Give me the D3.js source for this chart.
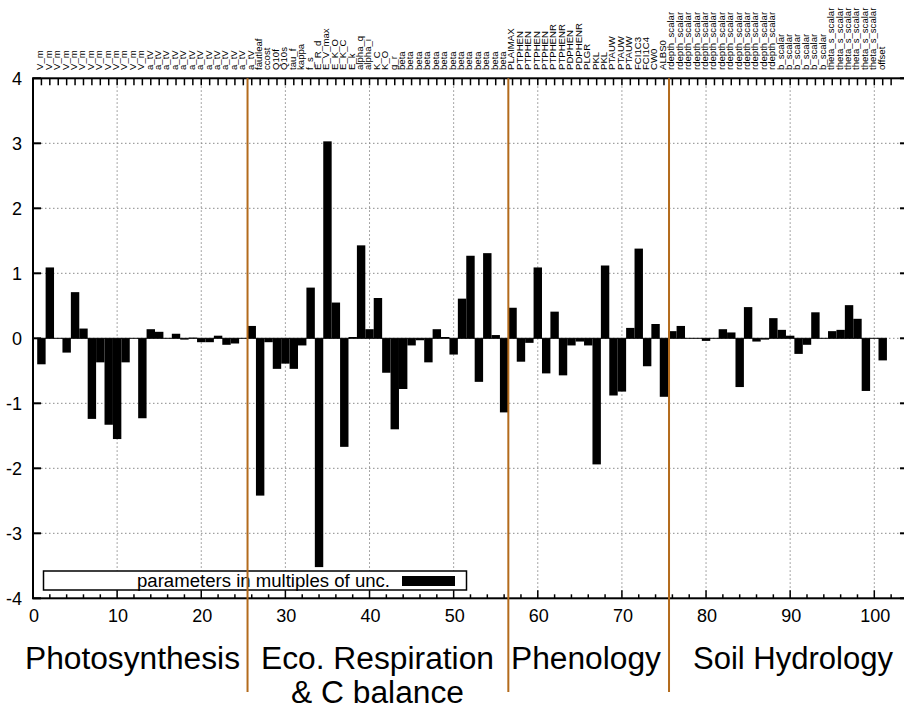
<!DOCTYPE html>
<html>
<head>
<meta charset="utf-8">
<script src="https://cdn.jsdelivr.net/npm/d3@7"></script>
<style>
  html, body { margin: 0; padding: 0; background: #fff; }
  svg { display: block; font-family: "Liberation Sans", Arial, Helvetica, sans-serif; }
</style>
</head>
<body>
<svg id="chart" width="904" height="711"></svg>
<script>
// Parameter names along the top axis, one per bar (index 1..101)
const paramNames = [].concat(
  Array(13).fill("V_m"),
  Array(13).fill("a_tV"),
  ["fautleaf", "ccost", "Q10f", "Q10s", "tau_f", "kappa", "f_s", "E_R_d", "E_V_max",
   "E_K_O", "E_K_C", "E_k", "alpha_q", "alpha_i", "K_C", "K_O", "g_r"],
  Array(13).fill("beta"),
  ["PLAIMAX", "PTPHEN", "PTPHEN", "PTPHEN", "PTPHEN", "PTPHENR", "PTPHENR", "PDPHEN",
   "PDPHENR", "PLGR", "PKL", "PKL", "PTAUW", "PTAUW", "PTAUW", "FCI1C3", "FCI1C4", "CW0", "ALBS0"],
  Array(13).fill("rdepth_scalar"),
  Array(6).fill("b_scalar"),
  Array(6).fill("theta_s_scalar"),
  ["offset"]
);

// Parameter change in multiples of its uncertainty, bars 1..101
const paramValues = [
  -0.40, 1.09, 0.00, -0.22, 0.71, 0.15, -1.24, -0.37, -1.33, -1.55,
  -0.37, 0.00, -1.23, 0.14, 0.10, 0.00, 0.07, -0.02, 0.01, -0.06,
  -0.06, 0.04, -0.10, -0.08, 0.00, 0.19, -2.42, -0.06, -0.47, -0.39,
  -0.47, -0.11, 0.78, -3.52, 3.03, 0.55, -1.67, 0.02, 1.43, 0.14,
  0.62, -0.53, -1.40, -0.78, -0.11, -0.03, -0.37, 0.14, 0.02, -0.25,
  0.61, 1.27, -0.67, 1.31, 0.05, -1.14, 0.47, -0.36, -0.07, 1.09,
  -0.54, 0.41, -0.57, -0.11, -0.05, -0.11, -1.94, 1.12, -0.88, -0.82,
  0.16, 1.38, -0.43, 0.22, -0.90, 0.11, 0.19, 0.00, 0.00, -0.04,
  0.00, 0.14, 0.09, -0.75, 0.48, -0.05, -0.02, 0.31, 0.13, 0.04,
  -0.24, -0.10, 0.40, 0.00, 0.11, 0.13, 0.51, 0.30, -0.81, 0.00,
  -0.34
];

// Axis tick values
const xTicksMajor = [0, 10, 20, 30, 40, 50, 60, 70, 80, 90, 100];
const xTicksMinor = d3.range(0, 105, 2);
const yTicks = [-4, -3, -2, -1, 0, 1, 2, 3, 4];
const yGrid = [-3, -2, -1, 0, 1, 2, 3];

// Process group boundaries and their captions
const groupBounds = [25.5, 56.5, 75.6];
const groupLabels = [
  { lines: ["Photosynthesis"], x0: 25, w: [215] },
  { lines: ["Eco. Respiration", "& C balance"], x0: 261, w: [233, 173], dx: [0, 30] },
  { lines: ["Phenology"], x0: 511, w: [150] },
  { lines: ["Soil Hydrology"], x0: 693, w: [200] }
];
const legendText = "parameters in multiples of unc.";

const svg = d3.select("#chart");
const x = d3.scaleLinear().domain([0, 104]).range([33, 33 + 104 * 8.413]);
const y = d3.scaleLinear().domain([-4, 4]).range([598.3, 78.3]);
const [x0, x1] = x.range();
const [yb, yt] = y.range();

// Dotted grid
const grid = svg.append("g").attr("stroke", "#8a8a8a").attr("stroke-width", 1)
  .attr("stroke-dasharray", "1.5,2.5");
grid.selectAll("line.v").data(xTicksMajor.filter(d => d > 0)).join("line")
  .attr("x1", d => x(d)).attr("x2", d => x(d)).attr("y1", yt).attr("y2", yb);
grid.selectAll("line.h").data(yGrid).join("line")
  .attr("x1", x0).attr("x2", x1).attr("y1", d => y(d)).attr("y2", d => y(d));

// Zero line under the bars
svg.append("line").attr("x1", x(0.5)).attr("x2", x(101.5))
  .attr("y1", y(0)).attr("y2", y(0)).attr("stroke", "#000").attr("stroke-width", 1);

// Bars, one unit wide, centred on their index
svg.append("g").selectAll("rect").data(paramValues).join("rect")
  .attr("x", (d, i) => x(i + 0.5))
  .attr("width", x(1) - x(0))
  .attr("y", d => y(Math.max(d, 0)))
  .attr("height", d => Math.abs(y(d) - y(0)))
  .attr("fill", "#000");

// Legend
const lg = svg.append("g");
lg.append("rect").attr("x", 43.5).attr("y", 571).attr("width", 423).attr("height", 19)
  .attr("fill", "#fff").attr("stroke", "#000").attr("stroke-width", 1.5);
lg.append("text").attr("x", 390).attr("y", 587).attr("text-anchor", "end")
  .attr("font-size", 18).attr("textLength", 253).attr("lengthAdjust", "spacingAndGlyphs")
  .text(legendText);
lg.append("rect").attr("x", 402).attr("y", 576).attr("width", 53).attr("height", 10).attr("fill", "#000");

// Frame
const frame = svg.append("g").attr("stroke", "#000").attr("fill", "none");
frame.append("rect").attr("x", x0).attr("y", yt).attr("width", x1 - x0).attr("height", yb - yt)
  .attr("stroke-width", 2);

// Left and right y ticks
frame.selectAll("line.yl").data(yTicks).join("line")
  .attr("x1", x0).attr("x2", x0 + 8).attr("y1", d => y(d)).attr("y2", d => y(d)).attr("stroke-width", 2);
frame.selectAll("line.yr").data(yTicks).join("line")
  .attr("x1", x1).attr("x2", x1 - 8).attr("y1", d => y(d)).attr("y2", d => y(d)).attr("stroke-width", 2);

// Bottom ticks
frame.selectAll("line.xm").data(xTicksMinor).join("line")
  .attr("x1", d => x(d)).attr("x2", d => x(d))
  .attr("y1", yb).attr("y2", d => yb - (d % 10 === 0 ? 8 : 4)).attr("stroke-width", 1.5);

// Top ticks, one per parameter
const topIdx = d3.range(1, 103);
frame.selectAll("line.xt").data(topIdx).join("line")
  .attr("x1", d => x(d)).attr("x2", d => x(d)).attr("y1", yt).attr("y2", yt + 7).attr("stroke-width", 1.5);

// Tick labels
svg.append("g").attr("font-size", 18).attr("text-anchor", "end")
  .selectAll("text").data(yTicks).join("text")
  .attr("x", 22).attr("y", d => y(d)).attr("dy", "0.35em").text(d => d);
svg.append("g").attr("font-size", 18).attr("text-anchor", "middle")
  .selectAll("text").data(xTicksMajor).join("text")
  .attr("x", d => x(d) + 1).attr("y", 622).text(d => d);

// Parameter names, vertical
svg.append("g").attr("font-size", 9.6)
  .selectAll("text").data(paramNames).join("text")
  .attr("transform", (d, i) => `translate(${x(i + 1) - 1.5},70) rotate(-90)`)
  .attr("dy", "0.35em").text(d => d);

// Group separators
svg.append("g").selectAll("line").data(groupBounds).join("line")
  .attr("x1", d => x(d)).attr("x2", d => x(d)).attr("y1", yt).attr("y2", 692)
  .attr("stroke", "#b36b1c").attr("stroke-width", 2);

// Group captions
const gl = svg.append("g").attr("font-size", 31);
groupLabels.forEach(g => {
  g.lines.forEach((t, k) => {
    gl.append("text")
      .attr("x", g.x0 + (g.dx ? g.dx[k] : 0))
      .attr("y", 669 + k * 34)
      .attr("textLength", g.w[k]).attr("lengthAdjust", "spacingAndGlyphs")
      .text(t);
  });
});
</script>
</body>
</html>
